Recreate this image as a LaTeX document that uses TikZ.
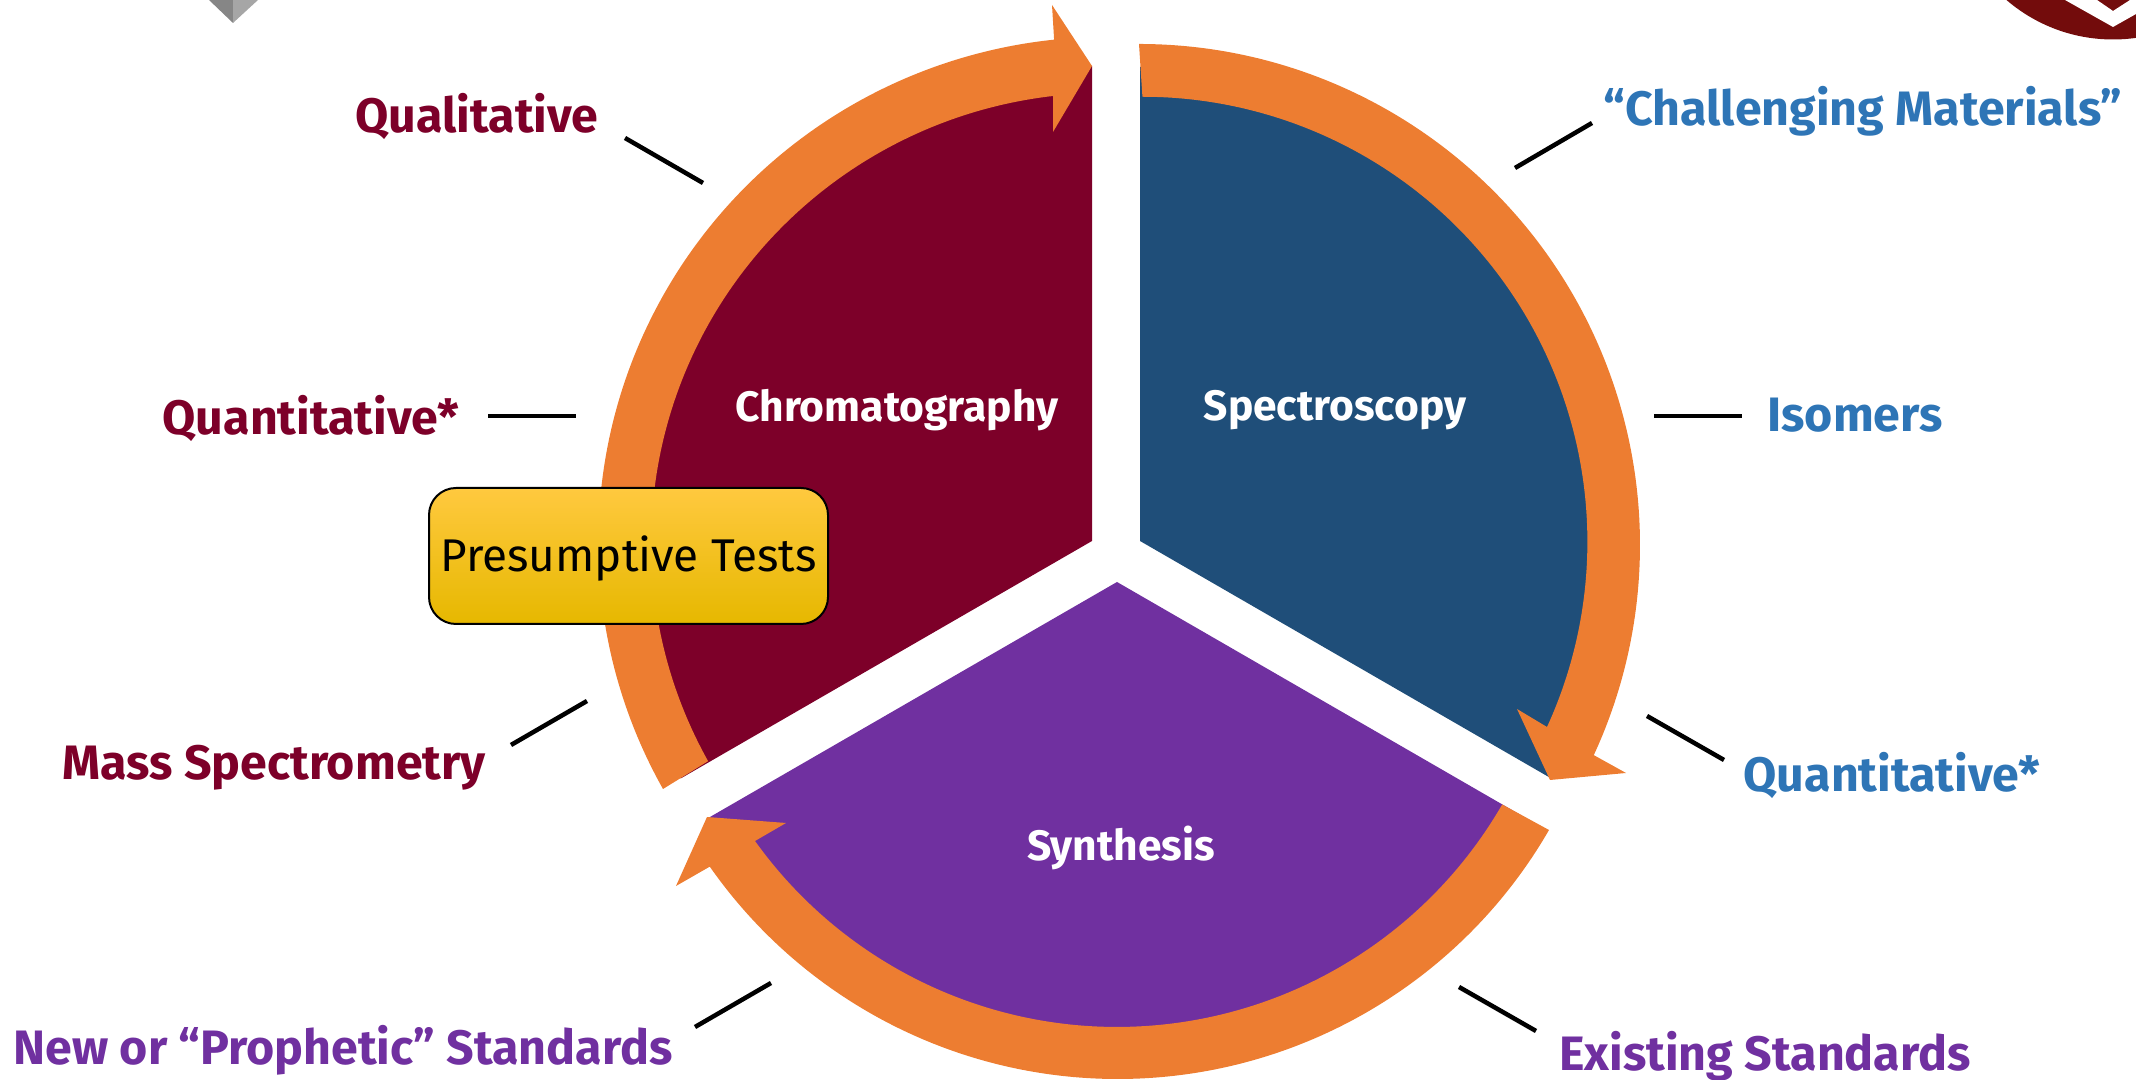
\documentclass[tikz,border=0pt]{standalone}
\usepackage{fontspec}
\setmainfont{Fira Sans}
\definecolor{ringorange}{HTML}{ED7D31}
\definecolor{chromred}{HTML}{7D0029}
\definecolor{specblue}{HTML}{1F4E79}
\definecolor{synthpurple}{HTML}{7030A0}
\definecolor{isoblue}{HTML}{2E75B6}
\definecolor{logored}{HTML}{730C0C}
\definecolor{boxtop}{HTML}{FFC93F}
\definecolor{boxmid}{HTML}{FFC600}
\definecolor{boxbot}{HTML}{E6B800}
\tikzset{
  lbl/.style={font=\fontsize{13.75}{16}\selectfont\bfseries},
  wedgelbl/.style={font=\fontsize{12.1}{15}\selectfont\bfseries,text=white},
  tick/.style={black,line width=0.045cm},
  ring/.style={fill=ringorange},
  testbox/.style={draw=black,line width=0.02cm,rounded corners=0.27cm,minimum width=3.99cm,minimum height=1.36cm,inner sep=0pt,
    top color=boxtop,middle color=boxmid,bottom color=boxbot,text height=0.40cm,text depth=0.08cm,
    font=\fontsize{13.05}{16}\selectfont}
}
\begin{document}
\begin{tikzpicture}
\useasboundingbox (0,0) rectangle (21.36,10.8);
\clip (0,0) rectangle (21.36,10.8);

\coordinate (chromc) at (10.92,5.39);
\coordinate (specc) at (11.40,5.39);
\coordinate (synthc) at (11.17,4.98);

% corner logos
\fill[gray!95] (2.09,10.8) -- (2.33,10.57) -- (2.33,10.8) -- cycle;
\fill[gray!70] (2.58,10.8) -- (2.33,10.57) -- (2.33,10.8) -- cycle;
\fill[logored] (21.13,12.04) circle (1.635);
\fill[white] (20.65,10.8) -- (21.13,10.53) -- (21.36,10.66) -- (21.36,10.8) -- (21.30,10.8) -- (21.13,10.69) -- (20.97,10.8) -- cycle;

% wedges
\fill[chromred] (chromc) -- ++(90:4.75) arc[start angle=90,end angle=210,radius=4.75] -- cycle;
\fill[specblue] (specc) -- ++(90:4.74) arc[start angle=90,end angle=-30,radius=4.74] -- cycle;
\fill[synthpurple] (synthc) -- ++(-30:4.73) arc[start angle=-30,end angle=-150,radius=4.73] -- cycle;

% arrows round the wedges
\fill[ring] (6.63,2.91) arc[start angle=209.2,end angle=96,x radius=5.09,y radius=5.055] -- (10.52,10.75) -- (10.92,10.14) -- (10.53,9.48) -- (10.53,9.84) arc[start angle=96.6,end angle=209,x radius=4.54,y radius=4.5] -- cycle;
\fill[ring] (11.39,10.36) arc[start angle=90,end angle=-24.8,radius=5.01] -- (16.26,3.07) -- (15.50,3.00) -- (15.17,3.71) -- (15.47,3.53) arc[start angle=-24.6,end angle=90,radius=4.45] -- cycle;
\fill[ring] (15.49,2.50) arc[start angle=-30,end angle=-145,radius=4.98] -- (6.76,1.94) -- (7.07,2.63) -- (7.86,2.57) -- (7.55,2.39) arc[start angle=-144.4,end angle=-30,radius=4.45] -- cycle;

\node[wedgelbl] (chromlbl) at (8.97,6.70) {Chromatography};
\node[wedgelbl] (speclbl) at (13.35,6.70) {Spectroscopy};
\node[wedgelbl] (synthlbl) at (11.21,2.32) {Synthesis};

\node[testbox] (tests) at (6.285,5.24) {Presumptive Tests};

\node[lbl,text=chromred] (qual) at (4.77,9.64) {Qualitative};
\node[lbl,text=chromred] (quantl) at (3.11,6.62) {Quantitative*};
\node[lbl,text=chromred] (mass) at (2.74,3.12) {Mass Spectrometry};
\node[lbl,text=synthpurple] (newstd) at (3.43,0.30) {New or “Prophetic” Standards};
\node[lbl,text=synthpurple] (oldstd) at (17.65,0.24) {Existing Standards};
\node[lbl,text=isoblue] (quantr) at (18.92,3.05) {Quantitative*};
\node[lbl,text=isoblue] (iso) at (18.55,6.65) {Isomers};
\node[lbl,text=isoblue] (chall) at (18.63,9.69) {“Challenging Materials”};

\coordinate (qualA) at (6.25,9.42);
\coordinate (qualB) at (7.03,8.97);
\coordinate (quantlA) at (4.88,6.64);
\coordinate (quantlB) at (5.76,6.64);
\coordinate (massA) at (5.11,3.35);
\coordinate (massB) at (5.87,3.79);
\coordinate (newA) at (6.95,0.53);
\coordinate (newB) at (7.71,0.97);
\coordinate (oldA) at (14.59,0.93);
\coordinate (oldB) at (15.36,0.49);
\coordinate (quantrA) at (16.47,3.64);
\coordinate (quantrB) at (17.24,3.20);
\coordinate (isoA) at (16.54,6.64);
\coordinate (isoB) at (17.42,6.64);
\coordinate (challA) at (15.15,9.12);
\coordinate (challB) at (15.92,9.57);

\draw[tick] (qualA) -- (qualB);
\draw[tick] (quantlA) -- (quantlB);
\draw[tick] (massA) -- (massB);
\draw[tick] (newA) -- (newB);
\draw[tick] (oldA) -- (oldB);
\draw[tick] (quantrA) -- (quantrB);
\draw[tick] (isoA) -- (isoB);
\draw[tick] (challA) -- (challB);

\end{tikzpicture}
\end{document}
